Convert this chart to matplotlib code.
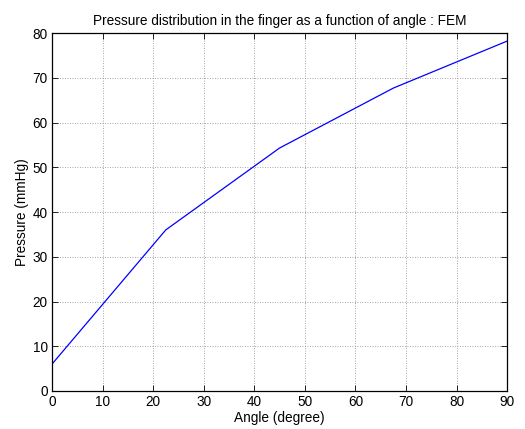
import numpy as np
import matplotlib.pyplot as plt

plt.rcParams['font.family'] = ['Liberation Sans', 'DejaVu Sans']

# FEM results: pressure at each finger angle
angle = [0, 22.5, 45, 67.5, 90]
pressure = [6, 36, 54.3, 67.7, 78.2]

fig = plt.figure(figsize=(5.25, 4.29), dpi=100)
ax = fig.add_axes([0.099, 0.0886, 0.867, 0.8344])
ax.plot(angle, pressure, color='blue', lw=0.9)

ax.set_xlim(0, 90)
ax.set_ylim(0, 80)
ax.set_xticks(np.arange(0, 91, 10))
ax.set_yticks(np.arange(0, 81, 10))
ax.grid(True, color='#888888', linestyle=(0, (1, 2)), lw=0.6)
ax.tick_params(direction='in', length=4.5, labelsize=9.8, top=True, right=True,
               labeltop=False, labelright=False, width=0.6, pad=3)
for s in ax.spines.values():
    s.set_linewidth(0.9)

ax.set_title('Pressure distribution in the finger as a function of angle : FEM', fontsize=9.8, pad=6)
ax.set_xlabel('Angle (degree)', fontsize=9.8, labelpad=1)
ax.set_ylabel('Pressure (mmHg)', fontsize=9.8, labelpad=3)

plt.savefig('out.png', dpi=100)
